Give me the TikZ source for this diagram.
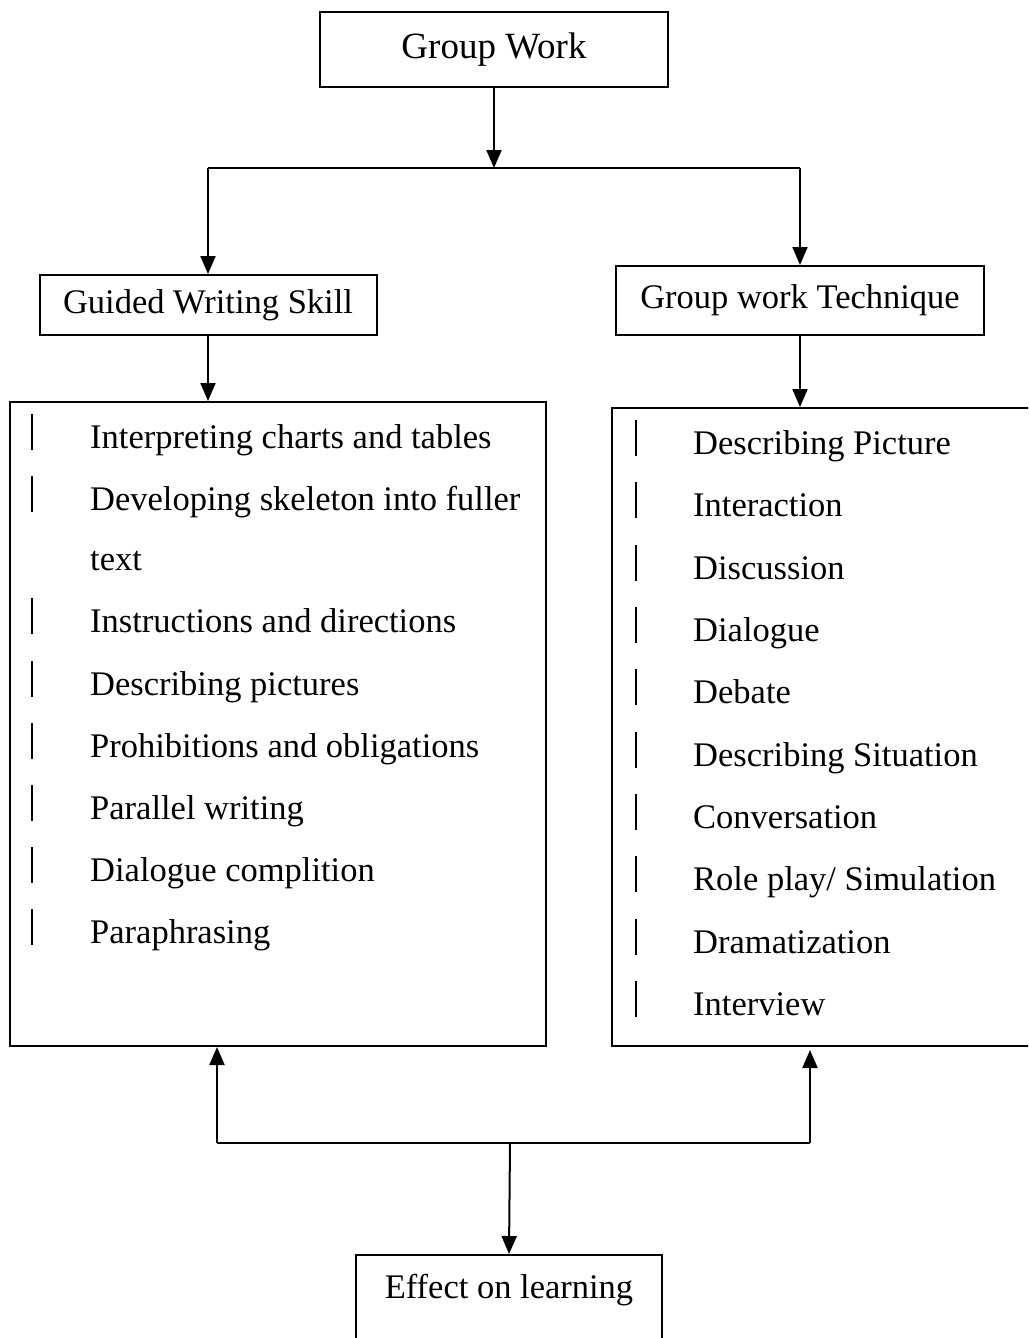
\documentclass[tikz,border=0pt]{standalone}
\usepackage{fontspec}
\setmainfont{Liberation Serif}
\usetikzlibrary{arrows.meta,positioning}
\tikzset{
  box/.style={draw,line width=2pt,rectangle,inner sep=0pt,font=\fontsize{34.5}{40}\selectfont},
  item/.style={inner sep=0pt,font=\fontsize{34.5}{40}\selectfont},
  link/.style={line width=2pt},
  arr/.style={link,-{Triangle[width=15pt,length=18pt]}},
  bar/.style={line width=2.6pt}
}
\begin{document}
\begin{tikzpicture}[x=1pt,y=-1pt]
    \useasboundingbox (0,0) rectangle (1028,1338);
    \clip (0,0) rectangle (1028,1338);
    % boxes
    \node[box,minimum width=348pt,minimum height=75pt,font=\fontsize{37}{42}\selectfont] (gw) at (494,49.5) {Group Work};
    \node[box,minimum width=337pt,minimum height=60pt] (gws) at (208,305) {Guided Writing Skill};
    \node[box,minimum width=368pt,minimum height=69pt] (gwt) at (800,300.5) {Group work Technique};
    \node[box,minimum width=536pt,minimum height=644pt] (lst) at (278,724) {};
    \node[box,minimum width=430pt,minimum height=638pt] (rst) at (827,727) {};
    \node[box,minimum width=306pt,minimum height=105pt] (eff) at (509,1307.5) {};
    \node[item,anchor=base] (efftxt) at (509,1298) {Effect on learning};
    % top connectors
    \coordinate (split) at (494,168);
    \coordinate (sl) at (208,168);
    \coordinate (sr) at (800,168);
    \draw[arr] (gw.south) -- (split);
    \draw[link] (sl) -- (sr);
    \draw[arr] (sl) -- (gws.north);
    \draw[arr] (sr) -- (gwt.north);
    \draw[arr] (gws.south) -- (gws.south |- lst.north);
    \draw[arr] (gwt.south) -- (gwt.south |- rst.north);
    % left list
    \foreach \yy/\t [count=\i] in {448/Interpreting charts and tables,
        510/Developing skeleton into fuller, 632/Instructions and directions,
        695/Describing pictures, 757/Prohibitions and obligations,
        819/Parallel writing, 881/Dialogue complition, 943/Paraphrasing} {
        \node[item,anchor=base west] (l\i) at (90,\yy) {\t};
        \draw[bar] (32,\yy-34) -- (32,\yy+2);
    }
    \node[item,anchor=base west] (l2b) at (90,570) {text};
    % right list
    \foreach \yy/\t [count=\i] in {454/Describing Picture, 516/Interaction,
        579/Discussion, 641/Dialogue, 703/Debate, 766/Describing Situation,
        828/Conversation, 890/{Role play/ Simulation}, 953/Dramatization,
        1015/Interview} {
        \node[item,anchor=base west] (r\i) at (693,\yy) {\t};
        \draw[bar] (636,\yy-34) -- (636,\yy+2);
    }
    % bottom connectors
    \coordinate (jl) at (217,1143);
    \coordinate (jr) at (810,1143);
    \coordinate (join) at (510,1143);
    \draw[link] (jl) -- (jr);
    \draw[arr] (jl) -- (jl |- lst.south);
    \draw[arr] (jr) -- (810,1050);
    \draw[arr] (join) -- (eff.north);
\end{tikzpicture}
\end{document}
